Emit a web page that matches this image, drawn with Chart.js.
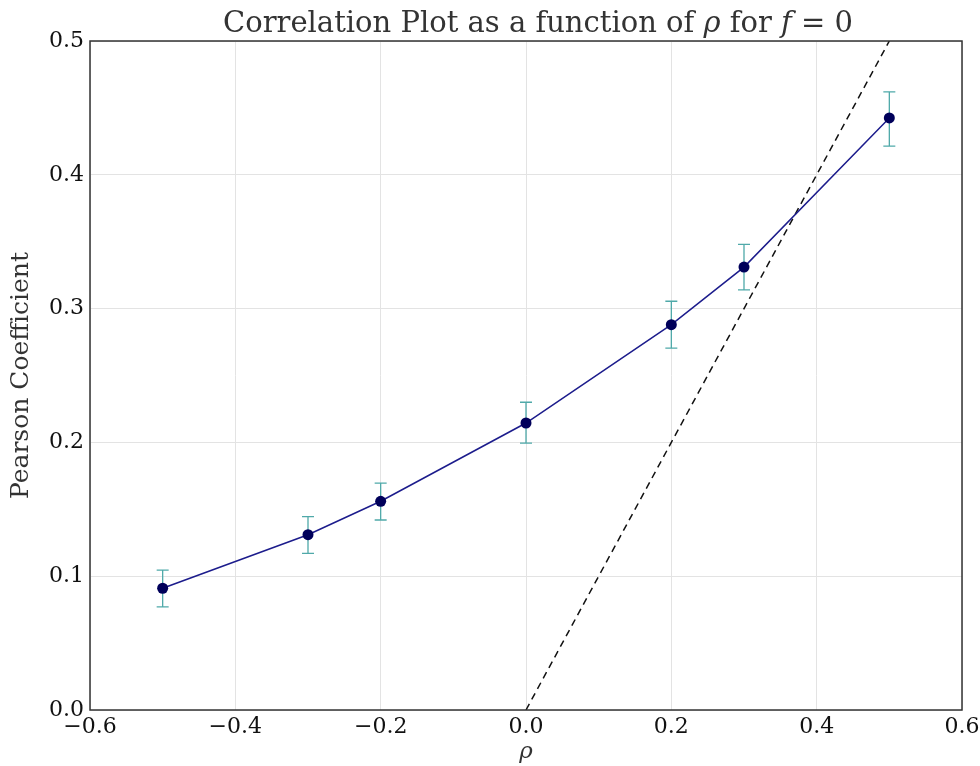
<!DOCTYPE html>
<html>
<head>
<meta charset="utf-8">
<script src="https://cdn.jsdelivr.net/npm/chart.js@4.4.1/dist/chart.umd.min.js"></script>
<style>
  body { margin: 0; background: #fff; }
  #wrap { width: 980px; height: 766px; }
</style>
</head>
<body>
<div id="wrap"><canvas id="chart"></canvas></div>
<script>
// values
const rhoValues = [-0.5, -0.3, -0.2, 0.0, 0.2, 0.3, 0.5];
const pearson = [0.091, 0.131, 0.156, 0.2145, 0.288, 0.331, 0.4425];
const errHigh = [0.1045, 0.1445, 0.1695, 0.2300, 0.3055, 0.3480, 0.4620];
const errLow = [0.0770, 0.1170, 0.1420, 0.1995, 0.2705, 0.3140, 0.4215];
const refX = [0, 0.5];
const refY = [0, 0.5];

const serif = "'DejaVu Serif', serif";

const toPoints = (xs, ys) => xs.map((x, i) => ({ x: x, y: ys[i] }));

// error bars, drawn behind the markers
const errorBars = {
  id: "errorBars",
  beforeDatasetsDraw(chart) {
    let ctx = chart.ctx;
    let xs = chart.scales.x;
    let ys = chart.scales.y;
    ctx.save();
    ctx.strokeStyle = "#4fa9a9";
    ctx.lineWidth = 1.3;
    for (let i = 0; i < rhoValues.length; i++) {
      let px = xs.getPixelForValue(rhoValues[i]);
      let top = ys.getPixelForValue(errHigh[i]);
      let bot = ys.getPixelForValue(errLow[i]);
      ctx.beginPath();
      ctx.moveTo(px, top);
      ctx.lineTo(px, bot);
      ctx.moveTo(px - 6, top);
      ctx.lineTo(px + 6, top);
      ctx.moveTo(px - 6, bot);
      ctx.lineTo(px + 6, bot);
      ctx.stroke();
    }
    ctx.restore();
  },
};

// frame round the plot + title with italic symbols
const frameAndTitle = {
  id: "frameAndTitle",
  afterDraw(chart) {
    let ctx = chart.ctx;
    let a = chart.chartArea;
    ctx.save();
    ctx.strokeStyle = "#333";
    ctx.lineWidth = 1.5;
    ctx.strokeRect(a.left, a.top, a.right - a.left, a.bottom - a.top);

    let parts = [
      ["Correlation Plot as a function of ", "normal"],
      ["ρ", "italic"],
      [" for ", "normal"],
      ["f", "italic"],
      [" = 0", "normal"],
    ];
    let size = 29;
    let total = 0;
    for (let p of parts) {
      ctx.font = p[1] + " " + size + "px " + serif;
      total += ctx.measureText(p[0]).width;
    }
    let x = (a.left + a.right) / 2 - total / 2 + 12;
    ctx.fillStyle = "#333";
    ctx.textBaseline = "alphabetic";
    for (let p of parts) {
      ctx.font = p[1] + " " + size + "px " + serif;
      ctx.fillText(p[0], x, 32);
      x += ctx.measureText(p[0]).width;
    }
    ctx.restore();
  },
};

new Chart(document.getElementById("chart"), {
  type: "scatter",
  data: {
    datasets: [
      {
        label: "Pearson",
        data: toPoints(rhoValues, pearson),
        showLine: true,
        borderColor: "#1c1c8c",
        backgroundColor: "#00005a",
        borderWidth: 1.5,
        pointRadius: 5.5,
        pointBorderWidth: 0,
        pointBackgroundColor: "#00005a",
      },
      {
        label: "y = x",
        data: toPoints(refX, refY),
        showLine: true,
        borderColor: "#111",
        borderWidth: 1.5,
        borderDash: [7, 5],
        pointRadius: 0,
      },
    ],
  },
  plugins: [errorBars, frameAndTitle],
  options: {
    responsive: true,
    maintainAspectRatio: false,
    animation: false,
    layout: { padding: { top: 41, right: 18, left: 0, bottom: 0 } },
    plugins: {
      legend: { display: false },
      tooltip: { enabled: false },
    },
    scales: {
      x: {
        type: "linear",
        min: -0.6,
        max: 0.6,
        afterFit: (s) => {
          s.height = 56;
          s.paddingRight = 0;
          s.paddingLeft = 0;
        },
        ticks: {
          stepSize: 0.2,
          color: "#111",
          padding: 4,
          font: { family: serif, size: 22 },
          callback: (v) => v.toFixed(1).replace("-", "\u2212"),
        },
        grid: { color: "#e3e3e3", drawTicks: false },
        border: { display: false },
        title: {
          display: true,
          text: "ρ",
          color: "#333",
          padding: { top: 0, bottom: 0 },
          font: { family: serif, size: 23, style: "italic" },
        },
      },
      y: {
        min: 0,
        max: 0.5,
        afterFit: (s) => { s.width = 90; },
        ticks: {
          stepSize: 0.1,
          color: "#111",
          padding: 6,
          font: { family: serif, size: 22 },
          callback: (v) => v.toFixed(1),
        },
        grid: { color: "#e3e3e3", drawTicks: false },
        border: { display: false },
        title: {
          display: true,
          text: "Pearson Coefficient",
          color: "#333",
          padding: { top: 6, bottom: 4 },
          font: { family: serif, size: 25 },
        },
      },
    },
  },
});
</script>
</body>
</html>
